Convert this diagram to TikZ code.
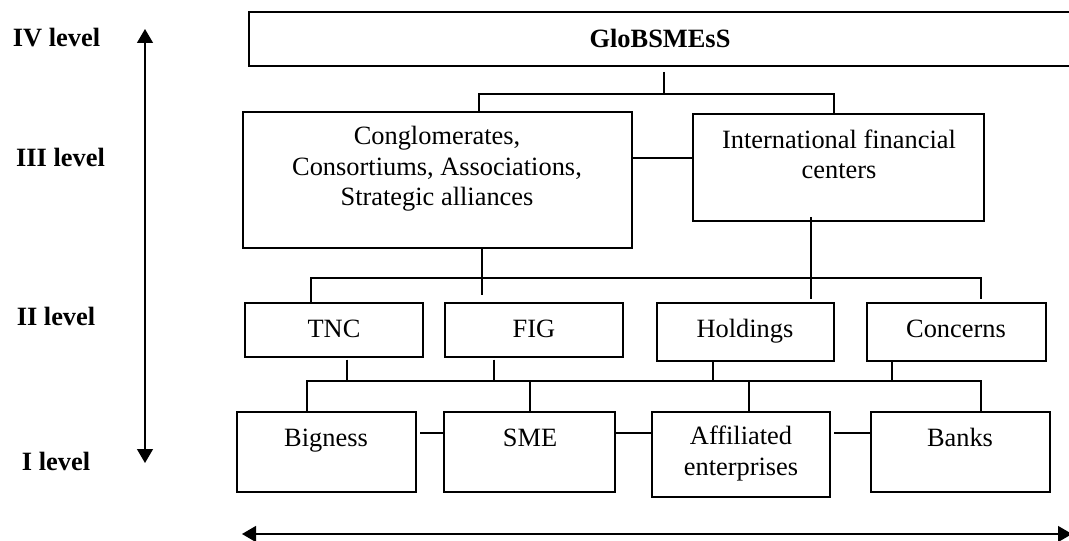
\documentclass[tikz,border=0pt]{standalone}
\usepackage{fontspec}
\setmainfont{Liberation Serif}
\usetikzlibrary{fit,arrows.meta}
\begin{document}
\begin{tikzpicture}[x=0.75pt,y=-0.75pt,
  box/.style={draw,line width=1.2pt,inner sep=0pt,outer sep=0pt},
  txt/.style={inner sep=0pt,outer sep=0pt,align=center,anchor=base,font=\fontsize{19.8}{22.9}\selectfont},
  lvl/.style={inner sep=0pt,outer sep=0pt,anchor=base,font=\fontsize{19.8}{22.9}\selectfont\bfseries},
  con/.style={line width=1.2pt},
  arr/.style={line width=1pt,{Triangle[length=10.5pt,width=12pt]}-{Triangle[length=10.5pt,width=12pt]}}]
\clip (0,0) rectangle (1069,541);
% level labels
\node[lvl] (l4) at (56.5,47) {IV level};
\node[lvl] (l3) at (60.5,167) {III level};
\node[lvl] (l2) at (56,325) {II level};
\node[lvl] (l1) at (56,470) {I level};
% level arrows
\coordinate (vt) at (145,29);
\coordinate (vb) at (145,463);
\draw[arr] (vt) -- (vb);
\coordinate (hl) at (242,534);
\coordinate (hr) at (1072,534);
\draw[arr] (hl) -- (hr);
% boxes
\node[box,fit={(249,12)(1080,66)}] (glob) {};
\node[lvl] (globt) at (660,48) {GloBSMEsS};
\node[box,fit={(243,112)(632,248)}] (cong) {};
\node[txt] (congt) at (437,206) {Conglomerates,\\Consortiums, Associations,\\Strategic alliances};
\node[box,fit={(693,114)(984,221)}] (ifc) {};
\node[txt] (ifct) at (839,179) {International financial\\centers};
\node[box,fit={(245,303)(423,357)}] (tnc) {};
\node[txt] at (334,337) {TNC};
\node[box,fit={(445,303)(623,357)}] (fig) {};
\node[txt] at (534,337) {FIG};
\node[box,fit={(657,303)(834,361)}] (hold) {};
\node[txt] at (745,337) {Holdings};
\node[box,fit={(867,303)(1046,361)}] (conc) {};
\node[txt] at (956,337) {Concerns};
\node[box,fit={(237,412)(416,492)}] (big) {};
\node[txt] at (326,446) {Bigness};
\node[box,fit={(444,412)(615,492)}] (sme) {};
\node[txt] at (530,446) {SME};
\node[box,fit={(652,412)(830,497)}] (aff) {};
\node[txt] at (741,475) {Affiliated\\enterprises};
\node[box,fit={(871,412)(1050,492)}] (bank) {};
\node[txt] at (960,446) {Banks};
% level IV -> III
\coordinate (j4) at (664,94);
\coordinate (j4l) at (479,94);
\coordinate (j4r) at (834,94);
\draw[con] ([yshift=-4.5pt]glob.south -| j4) -- (j4);
\draw[con] (cong.north -| j4l) -- (j4l) -- (j4r) -- (ifc.north -| j4r);
\coordinate (ym) at (660,158);
\draw[con] (cong.east |- ym) -- (ifc.west |- ym);
% level III -> II
\coordinate (j3) at (482,278);
\coordinate (j3l) at (311,278);
\coordinate (j3r) at (981,278);
\coordinate (j3m) at (811,278);
\draw[con] (cong.south -| j3) -- ([yshift=6pt]fig.north -| j3);
\draw[con] (tnc.north -| j3l) -- (j3l) -- (j3r) -- ([yshift=3pt]conc.north -| j3r);
\draw[con] ([yshift=3pt]ifc.south -| j3m) -- ([yshift=3pt]hold.north -| j3m);
% level II -> I
\coordinate (j2l) at (307,381);
\coordinate (j2r) at (981,381);
\coordinate (d1) at (347,381);
\coordinate (d2) at (494,381);
\coordinate (d3) at (713,381);
\coordinate (d4) at (892,381);
\coordinate (u2) at (530,381);
\coordinate (u3) at (749,381);
\draw[con] (big.north -| j2l) -- (j2l) -- (j2r) -- (bank.north -| j2r);
\draw[con] ([yshift=-2pt]tnc.south -| d1) -- (d1);
\draw[con] ([yshift=-2pt]fig.south -| d2) -- (d2);
\draw[con] (hold.south -| d3) -- (d3);
\draw[con] (conc.south -| d4) -- (d4);
\draw[con] (u2) -- (sme.north -| u2);
\draw[con] (u3) -- (aff.north -| u3);
% level I side links
\coordinate (yl) at (600,433);
\draw[con] ([xshift=3pt]big.east |- yl) -- (sme.west |- yl);
\draw[con] (sme.east |- yl) -- (aff.west |- yl);
\draw[con] ([xshift=3pt]aff.east |- yl) -- (bank.west |- yl);
\end{tikzpicture}
\end{document}
